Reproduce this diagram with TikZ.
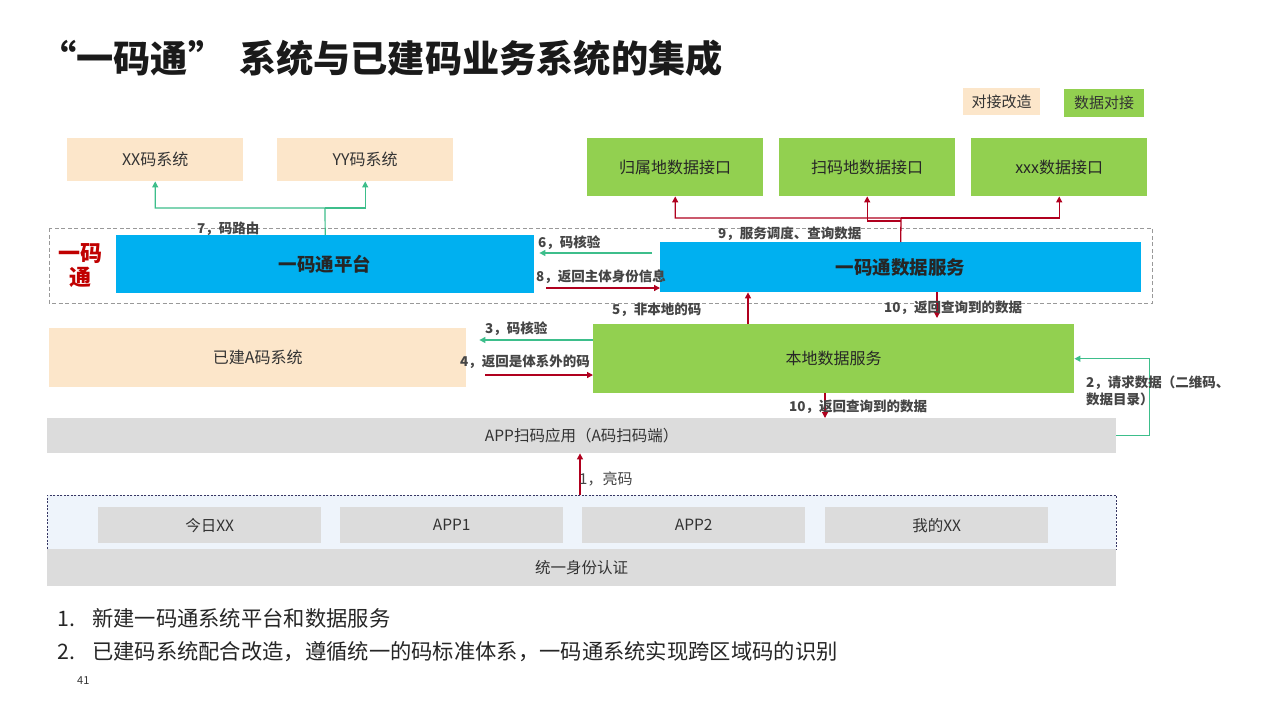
\documentclass[tikz,border=0pt]{standalone}
\usepackage{fontspec}
\setmainfont{Noto Sans CJK SC}
\usetikzlibrary{arrows.meta,calc}
\definecolor{beige}{HTML}{FCE6CA}
\definecolor{lgreen}{HTML}{92D050}
\definecolor{sky}{HTML}{00B0F0}
\definecolor{dred}{HTML}{B0001E}
\definecolor{tgreen}{HTML}{3DBE8B}
\definecolor{lgray}{HTML}{DCDCDC}
\definecolor{lblue}{HTML}{EEF4FB}
\definecolor{lbl}{HTML}{454545}
\definecolor{titlec}{HTML}{1A1A1A}
\definecolor{redt}{HTML}{C00000}
\newcommand\fsz[1]{\fontsize{#1}{#1}\selectfont}
\begin{document}
\begin{tikzpicture}[x=1pt,y=-1pt,
  box/.style={inner sep=0pt, anchor=north west, text=black!80},
  beigebox/.style={box, fill=beige, font=\fsz{16}},
  greenbox/.style={box, fill=lgreen, font=\fsz{16}, text=black!85},
  bluebox/.style={box, fill=sky, font=\bfseries\fsz{18.5}, text=black!85},
  graybox/.style={box, fill=lgray, font=\fsz{15.5}},
  ra/.style={draw=dred, line width=1.3pt, -{Triangle[width=6pt,length=6pt]}},
  ga/.style={draw=tgreen, line width=1.2pt, -{Triangle[width=6pt,length=6pt]}},
  lab/.style={font=\bfseries\fsz{13.5}, text=lbl, inner sep=0pt, anchor=west},
  legbox/.style={inner sep=0pt, minimum height=27pt, font=\fsz{15}, text=black!80}
]
\useasboundingbox (0,0) rectangle (1280,720);
\fill[white] (0,0) rectangle (1280,720);

% title
\node[anchor=west, inner sep=0pt, font=\bfseries\fsz{37.2}, text=titlec] (title) at (39,58) {“一码通”\hspace{14pt}系统与已建码业务系统的集成};

% legend
\node[legbox, fill=beige, minimum width=77pt] (leg1) at (1001.5,101.5) {对接改造};
\node[legbox, fill=lgreen, minimum width=80pt, minimum height=28pt] (leg2) at (1104,103) {数据对接};

% dashed top region
\draw[draw=gray!80, line width=0.8pt, dash pattern=on 4pt off 2.5pt] (49,228) rectangle (1152,303);
\node[font=\bfseries\fsz{22}, text=redt, align=center, inner sep=0pt] (ymt) at (80,266) {一码\\[2pt]通};

% top boxes
\node[beigebox, minimum width=176pt, minimum height=43pt] (xx) at (67,138) {XX码系统};
\node[beigebox, minimum width=176pt, minimum height=43pt] (yy) at (277,138) {YY码系统};
\node[greenbox, minimum width=176pt, minimum height=58pt] (gs) at (587,138) {归属地数据接口};
\node[greenbox, minimum width=176pt, minimum height=58pt] (sm) at (779,138) {扫码地数据接口};
\node[greenbox, minimum width=176pt, minimum height=58pt] (xxx) at (971,138) {xxx数据接口};

% blue boxes
\node[bluebox, minimum width=418pt, minimum height=58pt] (plat) at (116,235) {一码通平台};
\node[bluebox, minimum width=481pt, minimum height=50pt] (dsvc) at (660,242) {一码通数据服务};

% middle boxes
\node[beigebox, minimum width=417pt, minimum height=59pt] (abox) at (49,328) {已建A码系统};
\node[greenbox, minimum width=481pt, minimum height=69pt] (lsvc) at (593,324) {本地数据服务};
\node[graybox, minimum width=1069pt, minimum height=35pt] (app) at (47,418) {APP扫码应用（A码扫码端）};

% bottom region
\node[box, fill=lblue, draw=gray!70!blue!60!black, dash pattern=on 2pt off 1.5pt, line width=0.8pt, minimum width=1069pt, minimum height=54pt] (idbox) at (47,495) {};
\node[graybox, minimum width=223pt, minimum height=36pt] (b1) at (98,507) {今日XX};
\node[graybox, minimum width=223pt, minimum height=36pt] (b2) at (340,507) {APP1};
\node[graybox, minimum width=223pt, minimum height=36pt] (b3) at (582,507) {APP2};
\node[graybox, minimum width=223pt, minimum height=36pt] (b4) at (825,507) {我的XX};
\node[graybox, minimum width=1069pt, minimum height=37pt] (uid) at (47,549) {统一身份认证};

% connectors: 7
\coordinate (j7) at (325,208);
\draw[ga] (plat.north) -- (j7) -| (xx.south);
\draw[ga] (j7) -| (yy.south);
\node[lab] (l7) at (197,229) {7，码路由};

% connectors: 9
\coordinate (j9) at (901,218);
\coordinate (j9b) at (901,221);
\draw[ra] (dsvc.north) -- (j9) -| (gs.south);
\draw[ra] (j9) -| (xxx.south);
\draw[ra] (j9b) -| (sm.south);
\node[lab] (l9) at (718,234) {9，服务调度、查询数据};

% 6 and 8
\draw[ga] ($(dsvc.west |- 0,253)+(-8,0)$) -- ($(plat.east |- 0,253)+(5,0)$);
\node[lab] (l6) at (538,243) {6，码核验};
\draw[ra] ($(plat.east |- 0,288)+(12,0)$) -- (dsvc.west |- 0,288);
\node[lab] (l8) at (536,277) {8，返回主体身份信息};

% 5 and 10
\draw[ra] (748,0 |- lsvc.north) -- (748,0 |- dsvc.south);
\node[lab] (l5) at (612,310) {5，非本地的码};
\draw[ra] (937,0 |- dsvc.south) -- ($(937,0 |- lsvc.north)+(0,-6)$);
\node[lab] (l10a) at (884,308) {10，返回查询到的数据};

% 3 and 4
\draw[ga] (lsvc.west |- 0,340) -- ($(abox.east |- 0,340)+(13,0)$);
\node[lab] (l3) at (485,329) {3，码核验};
\draw[ra] ($(abox.east |- 0,375)+(19,0)$) -- (lsvc.west |- 0,375);
\node[lab] (l4) at (460,362) {4，返回是体系外的码};

% lower 10
\draw[ra] (825,0 |- lsvc.south) -- (825,0 |- app.north);
\node[lab] (l10b) at (789,407) {10，返回查询到的数据};

% 2
\draw[ga] (app.east) -- ++(33,0) |- (lsvc.east);
\node[lab, anchor=north west, align=left, font=\bfseries\fontsize{13.5}{17}\selectfont] (l2) at (1086,376) {2，请求数据（二维码、\\数据目录）};

% 1
\draw[ra] (580,0 |- idbox.north) -- (580,0 |- app.south);
\node[anchor=west, inner sep=0pt, font=\fsz{15}, text=lbl] (l1) at (579,479) {1，亮码};

% bottom notes
\node[anchor=west, inner sep=0pt, font=\fsz{21.3}, text=black!85] (n1) at (57,618) {\makebox[35pt][l]{1.}新建一码通系统平台和数据服务};
\node[anchor=west, inner sep=0pt, font=\fsz{21.3}, text=black!85] (n2) at (57,652) {\makebox[35pt][l]{2.}已建码系统配合改造，遵循统一的码标准体系，一码通系统实现跨区域码的识别};
\node[anchor=west, inner sep=0pt, font=\fsz{11}, text=black!80] (pg) at (77,681) {41};
\end{tikzpicture}
\end{document}
